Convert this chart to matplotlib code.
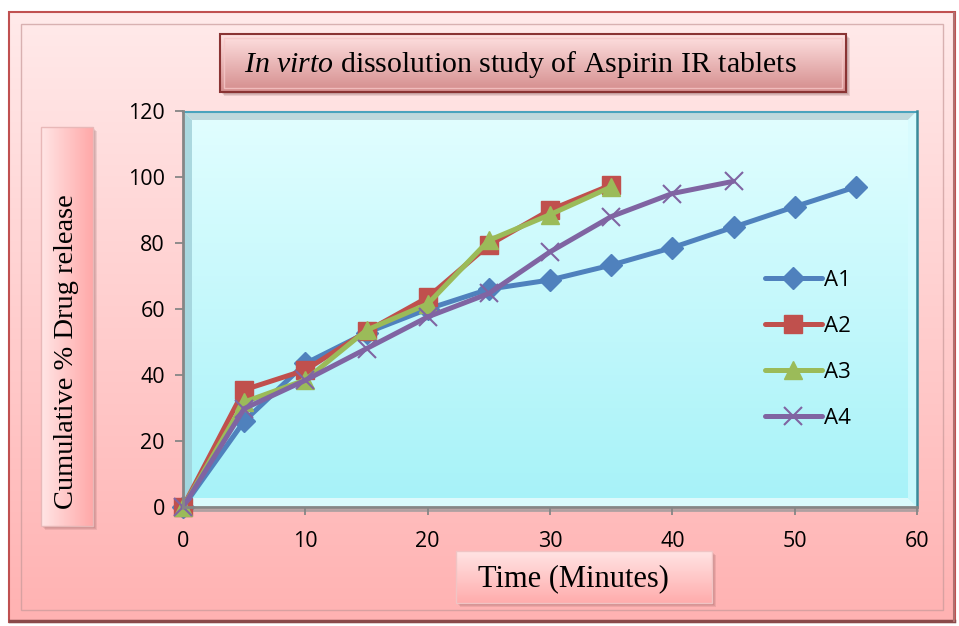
import numpy as np
import matplotlib
matplotlib.use("Agg")
import matplotlib.pyplot as plt
from matplotlib.patches import Polygon, Rectangle
from matplotlib.colors import LinearSegmentedColormap

plt.rcParams['mathtext.fontset'] = 'custom'
plt.rcParams['mathtext.rm'] = 'Liberation Serif'
plt.rcParams['mathtext.it'] = 'Liberation Serif:italic'

# Dissolution data: time (min) vs cumulative % drug release
time_a1 = [0, 5, 10, 15, 20, 25, 30, 35, 40, 45, 50, 55]
a1 = [0, 26, 43.5, 52.8, 60, 66, 68.8, 73.3, 78.6, 84.8, 91, 97]
time_a2 = [0, 5, 10, 15, 20, 25, 30, 35]
a2 = [0, 35.5, 41.5, 53.2, 63.5, 79.4, 90, 97.6]
time_a3 = [0, 5, 10, 15, 20, 25, 30, 35]
a3 = [0, 31.8, 38.5, 53.6, 61.5, 80.8, 88.6, 97]
time_a4 = [0, 5, 10, 15, 20, 25, 30, 35, 40, 45]
a4 = [0, 29.8, 38.4, 48, 57.6, 64.7, 77.3, 88, 95, 98.7]

series_names = ["A1", "A2", "A3", "A4"]
x_ticks = [0, 10, 20, 30, 40, 50, 60]
y_ticks = [0, 20, 40, 60, 80, 100, 120]

W, H = 959, 626
fig = plt.figure(figsize=(W / 100, H / 100), dpi=100)
fig.patch.set_facecolor("white")

# decorative layer in pixel coordinates (y down)
bg = fig.add_axes([0, 0, 1, 1], zorder=-10)
bg.set_xlim(0, W)
bg.set_ylim(H, 0)
bg.axis("off")


def vgrad(ax, x0, y0, x1, y1, top, bottom, z=0, horizontal=False):
    cmap = LinearSegmentedColormap.from_list("g", [top, bottom])
    if horizontal:
        arr = np.linspace(0, 1, 256).reshape(1, -1)
    else:
        arr = np.linspace(0, 1, 256).reshape(-1, 1)
    ax.imshow(arr, cmap=cmap, extent=[x0, x1, y1, y0], aspect="auto",
              zorder=z, interpolation="bicubic")


def shadow(ax, x0, y0, x1, y1, off=4, z=0, alpha=0.35):
    for k in range(off, 0, -1):
        ax.add_patch(Rectangle((x0 + k, y0 + k), x1 - x0, y1 - y0,
                               facecolor="#5a2a2a", edgecolor="none",
                               alpha=alpha / off, zorder=z))


# outer chart frame
vgrad(bg, 9, 12, 955, 622, "#ffeaea", "#ffb2b2", z=1)
bg.add_patch(Rectangle((9, 12), 946, 610, facecolor="none",
                       edgecolor="#c05050", lw=1.5, zorder=2))
bg.add_patch(Rectangle((21, 24), 922, 586, facecolor="none",
                       edgecolor="#c89a9a", lw=1.0, alpha=0.7, zorder=2))
bg.plot([10, 954], [621, 621], color="#8a4a4a", lw=2.5, zorder=2)
bg.plot([954, 954], [13, 621], color="#b07070", lw=1.5, zorder=2)

# title box
shadow(bg, 220, 34, 846, 92, off=4, z=3, alpha=0.5)
vgrad(bg, 220, 34, 846, 92, "#ffe2e2", "#d48c8c", z=4)
bg.add_patch(Rectangle((220, 34), 626, 58, facecolor="none",
                       edgecolor="#8a3434", lw=1.5, zorder=5))
bg.add_patch(Rectangle((224, 38), 618, 50, facecolor="none",
                       edgecolor="#f7c8c8", lw=1.0, alpha=0.8, zorder=5))
bg.text(520, 64, r"$\mathit{In\ virto}$ dissolution study of Aspirin IR tablets",
        fontsize=21.5, family="Liberation Serif", ha="center", va="center",
        color="black", zorder=6)

# y label box
shadow(bg, 41, 127, 93, 526, off=4, z=3, alpha=0.4)
vgrad(bg, 41, 127, 93, 526, "#ffe6e6", "#ffa8a8", z=4, horizontal=True)
bg.add_patch(Rectangle((41, 127), 52, 399, facecolor="none",
                       edgecolor="#e8b8b8", lw=1.0, zorder=5))
bg.text(67, 352, "Cumulative % Drug release", fontsize=20.5,
        family="Liberation Serif", rotation=90, ha="center", va="center",
        color="black", zorder=6)

# x label box
shadow(bg, 456, 551, 712, 603, off=4, z=3, alpha=0.4)
vgrad(bg, 456, 551, 712, 603, "#ffe4e4", "#ffacac", z=4)
bg.add_patch(Rectangle((456, 551), 256, 52, facecolor="none",
                       edgecolor="#f0c4c4", lw=1.0, zorder=5))
bg.text(573, 579, "Time (Minutes)", fontsize=22, family="Liberation Serif",
        ha="center", va="center", color="black", zorder=6)

# plot area with bevel
px0, py0, px1, py1 = 183, 111, 917, 507
b = 9
vgrad(bg, px0, py0, px1, py1, "#e2feff", "#a6f2f8", z=6)
bg.add_patch(Polygon([(px0, py0), (px1, py0), (px1 - b, py0 + b), (px0 + b, py0 + b)],
                     facecolor="#b8d2d6", edgecolor="none", alpha=0.85, zorder=7))
bg.add_patch(Polygon([(px0, py0), (px0 + b, py0 + b), (px0 + b, py1 - b), (px0, py1)],
                     facecolor="#9fcfd8", edgecolor="none", alpha=0.8, zorder=7))
bg.add_patch(Polygon([(px1, py0), (px1, py1), (px1 - b, py1 - b), (px1 - b, py0 + b)],
                     facecolor="#d6fbff", edgecolor="none", alpha=0.7, zorder=7))
bg.add_patch(Polygon([(px0, py1), (px1, py1), (px1 - b, py1 - b), (px0 + b, py1 - b)],
                     facecolor="#eefefe", edgecolor="none", alpha=0.75, zorder=7))
bg.plot([px0, px1], [py0 + 0.5, py0 + 0.5], color="#4aa3bd", lw=1.5, zorder=8)
bg.plot([px1, px1], [py0, py1], color="#3a8a9a", lw=1.8, zorder=8)
bg.plot([px0, px1], [py1 + 2.5, py1 + 2.5], color="#7a8e90", lw=2.0, alpha=0.6, zorder=8)

# data axes
ax = fig.add_axes([px0 / W, 1 - py1 / H, (px1 - px0) / W, (py1 - py0) / H], zorder=1)
ax.patch.set_visible(False)
ax.set_xlim(0, 60)
ax.set_ylim(0, 120)

colors = ["#4f81bd", "#c0504d", "#9bbb59", "#8064a2"]
xs = [time_a1, time_a2, time_a3, time_a4]
ys = [a1, a2, a3, a4]
markers = ["D", "s", "^", "x"]
msizes = [11, 13, 13, 13]
for xv, yv, c, m, ms, name in zip(xs, ys, colors, markers, msizes, series_names):
    kw = dict(markeredgewidth=1.5) if m == "x" else dict(markeredgecolor=c)
    ax.plot(xv, yv, color=c, lw=3.6, marker=m, markersize=ms,
            markerfacecolor=c, label=name, clip_on=False, solid_joinstyle="round",
            solid_capstyle="round", **kw)

ax.set_xticks(x_ticks)
ax.set_yticks(y_ticks)
ax.tick_params(axis="both", direction="out", length=6, width=1.3, color="#868686",
               labelsize=15.5, labelcolor="black")
ax.tick_params(axis="x", pad=11)
ax.tick_params(axis="y", pad=7)
for lab in ax.get_xticklabels() + ax.get_yticklabels():
    lab.set_family("Open Sans")
for s in ["top", "right"]:
    ax.spines[s].set_visible(False)
for s in ["left", "bottom"]:
    ax.spines[s].set_color("#868686")
    ax.spines[s].set_linewidth(2.0)

leg = ax.legend(loc="upper left", bbox_to_anchor=(0.793, 0.598), frameon=False,
                prop={"family": "Open Sans", "size": 16}, handlelength=2.55,
                handletextpad=0.1, labelspacing=1.12, borderaxespad=0, borderpad=0)

fig.savefig("out.png", dpi=100)
